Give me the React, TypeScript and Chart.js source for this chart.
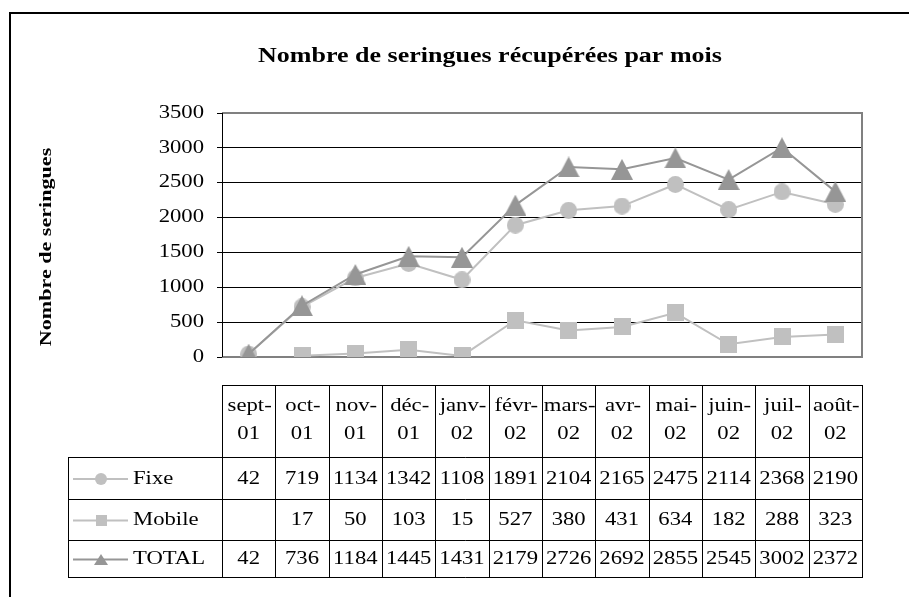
import React, { useEffect, useRef } from 'react';
import { Chart, registerables } from 'chart.js';
Chart.register(...registerables);

const categories = ['sept-01', 'oct-01', 'nov-01', 'déc-01', 'janv-02', 'févr-02', 'mars-02', 'avr-02', 'mai-02', 'juin-02', 'juil-02', 'août-02'];
const headerTop = ['sept-', 'oct-', 'nov-', 'déc-', 'janv-', 'févr-', 'mars-', 'avr-', 'mai-', 'juin-', 'juil-', 'août-'];
const headerBottom = ['01', '01', '01', '01', '02', '02', '02', '02', '02', '02', '02', '02'];
const fixe = [42, 719, 1134, 1342, 1108, 1891, 2104, 2165, 2475, 2114, 2368, 2190];
const mobile = [null, 17, 50, 103, 15, 527, 380, 431, 634, 182, 288, 323];
const total = [42, 736, 1184, 1445, 1431, 2179, 2726, 2692, 2855, 2545, 3002, 2372];
const seriesNames = ['Fixe', 'Mobile', 'TOTAL'];
const titleText = 'Nombre de seringues récupérées par mois';
const yTitleText = 'Nombre de seringues';

const SERIF = '"Liberation Serif", "Times New Roman", serif';
const LIGHT = '#C0C0C0';
const DARK = '#969696';

function makeMarker(kind: string, w: number, h: number, color: string) {
  const c = document.createElement('canvas');
  c.width = w;
  c.height = h;
  const g = c.getContext('2d')!;
  g.fillStyle = color;
  g.beginPath();
  if (kind === 'circle') {
    g.arc(w / 2, h / 2, w / 2, 0, Math.PI * 2);
  } else if (kind === 'rect') {
    g.rect(0, 0, w, h);
  } else {
    g.moveTo(0, h);
    g.lineTo(w / 2, 0);
    g.lineTo(w, h);
    g.closePath();
  }
  g.fill();
  return c;
}

function txt(ctx: CanvasRenderingContext2D, s: string, x: number, y: number, font: string, align: string, sx: number) {
  ctx.save();
  ctx.font = font;
  ctx.textBaseline = 'middle';
  ctx.textAlign = 'left';
  ctx.fillStyle = '#000';
  const w = ctx.measureText(s).width * sx;
  const x0 = align === 'center' ? x - w / 2 : align === 'right' ? x - w : x;
  ctx.translate(x0, y);
  ctx.scale(sx, 1);
  ctx.fillText(s, 0, 0);
  ctx.restore();
}

export default function App() {
  const ref = useRef<HTMLCanvasElement>(null);

  useEffect(() => {
    const canvas = ref.current!;
    const mCircle = makeMarker('circle', 17, 17, LIGHT);
    const mRect = makeMarker('rect', 17, 17, LIGHT);
    const mTri = makeMarker('tri', 22, 21, DARK);
    const lCircle = makeMarker('circle', 12, 12, LIGHT);
    const lRect = makeMarker('rect', 11, 11, LIGHT);
    const lTri = makeMarker('tri', 14, 11, DARK);

    const decor = {
      id: 'decor',
      beforeDatasetsDraw(chart: any) {
        const { ctx, chartArea: a } = chart;
        ctx.save();
        ctx.strokeStyle = '#808080';
        ctx.lineWidth = 2;
        ctx.beginPath();
        ctx.moveTo(a.left, a.top);
        ctx.lineTo(a.right, a.top);
        ctx.lineTo(a.right, a.bottom);
        ctx.lineTo(a.left, a.bottom);
        ctx.stroke();
        ctx.strokeStyle = '#000';
        ctx.lineWidth = 1;
        ctx.beginPath();
        ctx.moveTo(a.left + 0.5, a.top);
        ctx.lineTo(a.left + 0.5, a.bottom);
        ctx.stroke();
        ctx.restore();
      },
      afterDraw(chart: any) {
        const { ctx } = chart;
        const xs = chart.scales.x;
        const ys = chart.scales.y;
        ctx.save();
        // outer frame
        ctx.strokeStyle = '#000';
        ctx.lineWidth = 2;
        ctx.beginPath();
        ctx.moveTo(10, 600);
        ctx.lineTo(10, 13);
        ctx.lineTo(912, 13);
        ctx.stroke();

        // title
        txt(ctx, titleText, 490, 57, `bold 20px ${SERIF}`, 'center', 1.3);

        // y title
        ctx.save();
        ctx.translate(47, 247);
        ctx.rotate(-Math.PI / 2);
        txt(ctx, yTitleText, 0, 0, `bold 17px ${SERIF}`, 'center', 1.3);
        ctx.restore();

        // y tick labels
        ys.ticks.forEach((t: any) => {
          txt(ctx, String(t.value), 204, ys.getPixelForValue(t.value), `18px ${SERIF}`, 'right', 1.26);
        });

        // data table
        const n = categories.length;
        const c0 = xs.getPixelForValue(0);
        const c1 = xs.getPixelForValue(1);
        const half = (c1 - c0) / 2;
        const bounds: number[] = [];
        for (let i = 0; i < n; i++) bounds.push(Math.round(xs.getPixelForValue(i) - half));
        bounds.push(Math.round(xs.getPixelForValue(n - 1) + half));
        const tTop = 385;
        const rows = [457, 499, 540, 577];
        const labelLeft = 68;
        const right = bounds[n];

        ctx.strokeStyle = '#000';
        ctx.lineWidth = 1;
        ctx.beginPath();
        ctx.moveTo(bounds[0], tTop + 0.5);
        ctx.lineTo(right + 0.5, tTop + 0.5);
        rows.forEach((y) => {
          ctx.moveTo(labelLeft, y + 0.5);
          ctx.lineTo(right + 0.5, y + 0.5);
        });
        ctx.moveTo(labelLeft + 0.5, rows[0]);
        ctx.lineTo(labelLeft + 0.5, rows[3] + 1);
        bounds.forEach((b) => {
          ctx.moveTo(b + 0.5, tTop);
          ctx.lineTo(b + 0.5, rows[3] + 1);
        });
        ctx.stroke();

        const f18 = `18px ${SERIF}`;
        for (let i = 0; i < n; i++) {
          const cx = xs.getPixelForValue(i);
          txt(ctx, headerTop[i], cx + 1, 406, f18, 'center', 1.26);
          txt(ctx, headerBottom[i], cx, 434, f18, 'center', 1.26);
        }
        const series = [fixe, mobile, total];
        const keys = [lCircle, lRect, lTri];
        const keyColors = [LIGHT, LIGHT, DARK];
        series.forEach((arr, r) => {
          const cy = (rows[r] + (rows[r + 1] ?? rows[r] + 40)) / 2 + 1;
          ctx.strokeStyle = keyColors[r];
          ctx.lineWidth = 2;
          ctx.beginPath();
          ctx.moveTo(73, cy);
          ctx.lineTo(128, cy);
          ctx.stroke();
          const k = keys[r];
          ctx.drawImage(k, 101 - k.width / 2, cy - k.height / 2);
          txt(ctx, seriesNames[r], 133, cy, f18, 'left', 1.26);
          arr.forEach((v, i) => {
            if (v === null) return;
            txt(ctx, String(v), xs.getPixelForValue(i), cy, f18, 'center', 1.26);
          });
        });
        ctx.restore();
      },
    };

    const chart = new Chart(canvas, {
      type: 'line',
      data: {
        labels: categories,
        datasets: [
          {
            label: seriesNames[0],
            data: fixe,
            borderColor: LIGHT,
            backgroundColor: LIGHT,
            borderWidth: 2,
            pointStyle: mCircle as any,
            order: 2,
          },
          {
            label: seriesNames[1],
            data: mobile,
            borderColor: LIGHT,
            backgroundColor: LIGHT,
            borderWidth: 2,
            pointStyle: mRect as any,
            order: 1,
          },
          {
            label: seriesNames[2],
            data: total,
            borderColor: DARK,
            backgroundColor: DARK,
            borderWidth: 2,
            pointStyle: mTri as any,
            order: 0,
          },
        ],
      },
      options: {
        responsive: false,
        animation: false,
        devicePixelRatio: 1,
        spanGaps: false,
        layout: { padding: { left: 0, top: 113, right: 47, bottom: 240 } },
        plugins: { legend: { display: false }, tooltip: { enabled: false }, title: { display: false } },
        elements: { line: { tension: 0 }, point: { radius: 8 } },
        scales: {
          x: { type: 'category', offset: true, display: false },
          y: {
            min: 0,
            max: 3500,
            ticks: { stepSize: 500, display: false },
            grid: {
              color: (c: any) => (c.tick && (c.tick.value === 0 || c.tick.value === 3500) ? 'rgba(0,0,0,0)' : '#000'),
              tickColor: '#000',
              tickLength: 5,
              lineWidth: 1,
            },
            border: { display: false },
            afterFit: (s: any) => {
              s.width = 222;
            },
          },
        },
      },
      plugins: [decor],
    });
    return () => chart.destroy();
  }, []);

  return (
    <div style={{ position: 'fixed', left: 0, top: 0, width: 909, height: 597, background: '#fff' }}>
      <canvas ref={ref} width={909} height={597} style={{ display: 'block', width: 909, height: 597 }} />
    </div>
  );
}
